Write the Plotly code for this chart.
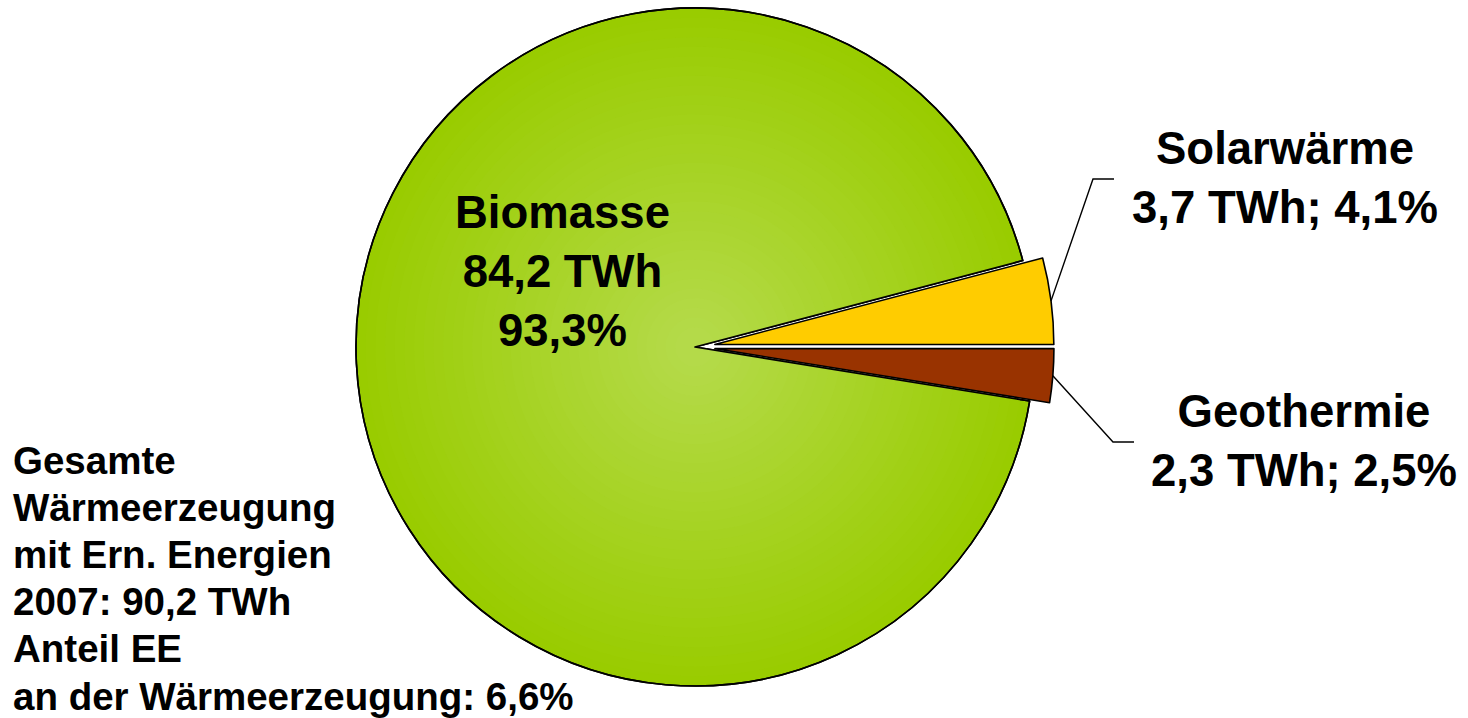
import math

import plotly.graph_objects as go

# Renewable heat generation 2007 (Germany), by source
names = ["Biomasse", "Solarwärme", "Geothermie"]
twh = [84.2, 3.7, 2.3]
share_pct = [93.3, 4.1, 2.5]
colors = ["#99CC00", "#FFCC00", "#993300"]
total_twh = 90.2
year = 2007
ee_share = 6.6

W, H = 1468, 718
CX, CY, R = 695, 347, 339          # pie centre and radius in px
PULL = 0.059                       # pull-out of the small slices (fraction of R)
FONT = "Liberation Sans, Arial, sans-serif"
CLEAR = "rgba(0,0,0,0)"


def de(v):
    return f"{v:.1f}".replace(".", ",")


total = sum(twh)
# Geothermie ends and Solarwärme starts at 3 o'clock (clockwise order)
rotation = 90 + 360 * twh[2] / total


def domain(cx, cy, r):
    return dict(x=[(cx - r) / W, (cx + r) / W], y=[1 - (cy + r) / H, 1 - (cy - r) / H])


def pie(cx, cy, r, fill, widths):
    return go.Pie(
        labels=names, values=twh, sort=False, direction="clockwise",
        rotation=rotation, domain=domain(cx, cy, r),
        marker=dict(colors=fill, line=dict(color="black", width=widths)),
        textinfo="none", hoverinfo="skip", showlegend=False,
    )


def mix(c0, c1, t):
    return "rgb(%d,%d,%d)" % tuple(round(a + (b - a) * t) for a, b in zip(c0, c1))


fig = go.Figure()

# Biomasse slice with a radial green gradient (stacked shrinking copies)
fig.add_trace(pie(CX, CY, R, [colors[0], CLEAR, CLEAR], [1.6, 0, 0]))
edge_rgb, centre_rgb = (153, 204, 0), (182, 219, 78)
N = 34
for k in range(1, N):
    f = 1 - k / N * 0.97
    fig.add_trace(pie(CX, CY, R * f, [mix(edge_rgb, centre_rgb, 1 - f), CLEAR, CLEAR], [0, 0, 0]))
# outline of the Biomasse slice on top of the gradient
fig.add_trace(pie(CX, CY, R, [CLEAR, CLEAR, CLEAR], [1.6, 0, 0]))

# Pulled-out slices: shift each copy along its own bisector
cum = [sum(twh[:i]) for i in range(len(twh))]
rim_points = {}
for i in (1, 2):
    mid = math.radians(rotation + 360 * (cum[i] + twh[i] / 2) / total)
    dx, dy = math.sin(mid), -math.cos(mid)
    cx, cy = CX + PULL * R * dx, CY + PULL * R * dy
    fill = [CLEAR] * 3
    fill[i] = colors[i]
    widths = [0] * 3
    widths[i] = 1.6
    fig.add_trace(pie(cx, cy, R, fill, widths))
    rim_points[i] = (cx + R * dx, cy + R * dy)


def px(x, y):
    return x / W, 1 - y / H


# Leader lines from the slice rim to the labels
elbows = {1: [(1093, 179), (1114, 179)], 2: [(1113, 442), (1134, 442)]}
for i, pts in elbows.items():
    path_pts = [rim_points[i]] + pts
    path = "M " + " L ".join("%.5f %.5f" % px(x, y) for x, y in path_pts)
    fig.add_shape(type="path", path=path, xref="paper", yref="paper",
                  line=dict(color="black", width=1.4))

bold = dict(family=FONT, color="black", weight="bold")

# Slice labels
fig.add_annotation(
    text=f"{names[0]}<br>{de(twh[0])} TWh<br>{de(share_pct[0])}%",
    x=px(562, 0)[0], y=px(0, 271)[1], xref="paper", yref="paper",
    xanchor="center", yanchor="middle", showarrow=False, align="center",
    font=dict(size=45.5, **bold),
)
label_pos = {1: (1285, 178), 2: (1304, 441)}
for i, (x, y) in label_pos.items():
    fig.add_annotation(
        text=f"{names[i]}<br>{de(twh[i])} TWh; {de(share_pct[i])}%",
        x=px(x, 0)[0], y=px(0, y)[1], xref="paper", yref="paper",
        xanchor="center", yanchor="middle", showarrow=False, align="center",
        font=dict(size=45.5, **bold),
    )

# Summary text block
summary = [
    "Gesamte",
    "Wärmeerzeugung",
    "mit Ern. Energien",
    f"{year}: {de(total_twh)} TWh",
    "Anteil EE",
    f"an der Wärmeerzeugung: {de(ee_share)}%",
]
for j, line in enumerate(summary):
    fig.add_annotation(
        text=line, x=px(11, 0)[0], y=px(0, 460 + j * 47.2)[1],
        xref="paper", yref="paper", xanchor="left", yanchor="middle",
        showarrow=False, align="left", font=dict(size=38.5, **bold),
    )

fig.update_layout(
    width=W, height=H, margin=dict(l=0, r=0, t=0, b=0),
    paper_bgcolor="white", plot_bgcolor="white", showlegend=False,
)

fig.write_html("out.html")
